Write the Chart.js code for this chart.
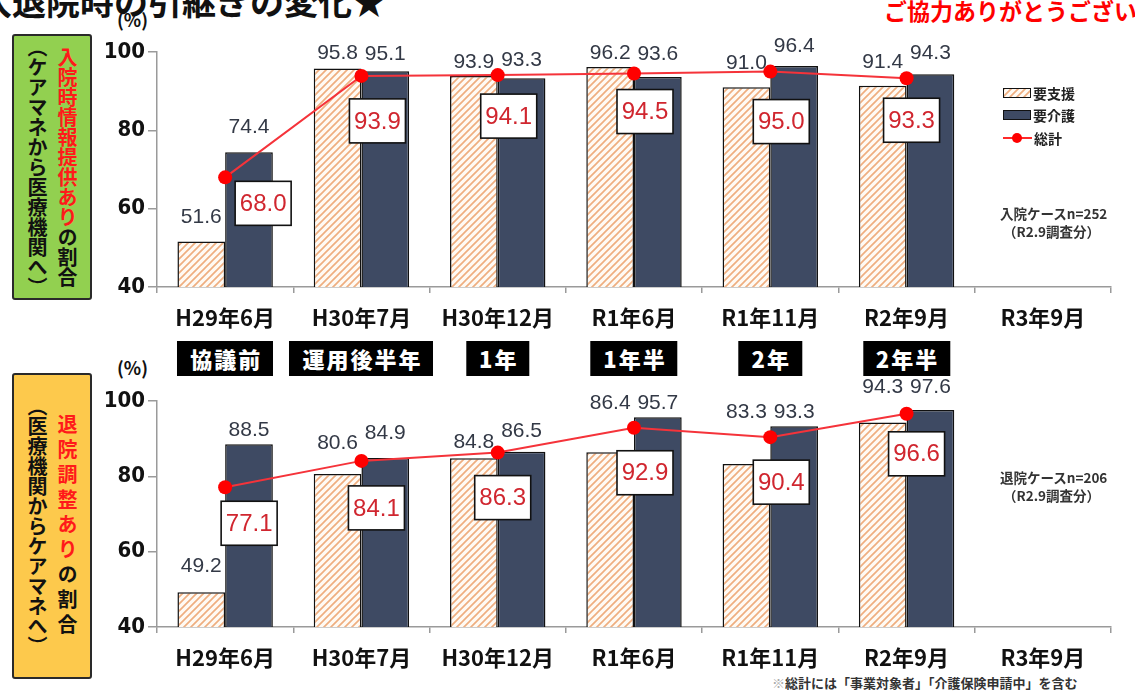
<!DOCTYPE html>
<html><head><meta charset="utf-8">
<script src="https://cdn.jsdelivr.net/npm/chart.js@4/dist/chart.umd.min.js"></script>
<style>
body{margin:0;width:1135px;height:693px;overflow:hidden;background:#fff;position:relative;font-family:"Noto Sans CJK JP",sans-serif;}
.abs{position:absolute;white-space:nowrap;}
canvas{position:absolute;}
.vbox{position:absolute;left:12px;width:76px;border:2px solid #2a2a2a;border-radius:3px;display:flex;flex-direction:row-reverse;justify-content:center;align-items:center;gap:4px;}
.vcol{writing-mode:vertical-rl;font-weight:700;font-size:20px;line-height:26px;color:#111;}
.phase{position:absolute;top:341px;height:35px;line-height:35px;background:#000;color:#fff;font-weight:900;font-size:22px;letter-spacing:2px;padding:0 11px 0 13px;transform:translateX(-50%);}
.leg{position:absolute;left:1003px;font-size:14px;font-weight:700;color:#222;display:flex;align-items:center;gap:2px;}
.note{position:absolute;font-size:13.5px;font-weight:700;color:#333;white-space:nowrap;}
</style></head><body>

<div class="abs" style="left:-22px;top:-24px;font-size:34px;font-weight:700;color:#111;">入退院時の引継ぎの変化★</div>
<div class="abs" style="left:884px;top:-7px;font-size:23px;font-weight:700;color:#ff0000;">ご協力ありがとうございました</div>

<div class="abs" style="left:117px;top:6px;font-size:18px;font-weight:700;color:#111;">(%)</div>
<div class="abs" style="left:117px;top:354px;font-size:18px;font-weight:700;color:#111;">(%)</div>

<div class="vbox" style="top:34px;height:262px;background:#92d050;">
  <div class="vcol"><span style="color:#ff1a1a">入院時情報提供あり</span>の割合</div>
  <div class="vcol">（ケアマネから医療機関へ）</div>
</div>
<div class="vbox" style="top:373px;height:302px;background:#fdc94c;">
  <div class="vcol" style="letter-spacing:5px;"><span style="color:#ff1a1a">退院調整あり</span>の割合</div>
  <div class="vcol">（医療機関からケアマネへ）</div>
</div>

<canvas id="c1"></canvas>
<canvas id="c2"></canvas>

<div class="leg" style="top:83px;"><span id="lg1" style="display:inline-block;width:26px;height:8px;border:1.5px solid #111;"></span><span id="ln0"></span></div>
<div class="leg" style="top:105px;"><span style="display:inline-block;width:26px;height:8px;border:1.5px solid #111;background:#3e4a63;"></span><span id="ln1"></span></div>
<div class="leg" style="top:128px;"><span style="position:relative;display:inline-block;width:29px;height:10px;"><span style="position:absolute;left:0;top:4px;width:29px;height:2px;background:#ff2a2a;"></span><span style="position:absolute;left:9px;top:0;width:10px;height:10px;border-radius:50%;background:#ff0000;"></span></span><span id="ln2"></span></div>

<div class="note" style="left:1000px;top:203px;">入院ケースn=252</div>
<div class="note" style="left:1003px;top:221px;">（R2.9調査分）</div>
<div class="note" style="left:1000px;top:467px;">退院ケースn=206</div>
<div class="note" style="left:1003px;top:485px;">（R2.9調査分）</div>
<div class="note" style="left:772px;top:673px;font-size:13px;"><span style="color:#aaa">※</span>総計には「事業対象者」「介護保険申請中」を含む</div>

<div id="phases"></div>

<script>
const categories = ['H29年6月','H30年7月','H30年12月','R1年6月','R1年11月','R2年9月','R3年9月'];
const phaseLabels = ['協議前','運用後半年','1年','1年半','2年','2年半'];
const seriesNames = ['要支援','要介護','総計'];
const yTicks = [40,60,80,100];

const admitSupport = [51.6,95.8,93.9,96.2,91.0,91.4,null];
const admitCare    = [74.4,95.1,93.3,93.6,96.4,94.3,null];
const admitTotal   = [68.0,93.9,94.1,94.5,95.0,93.3,null];

const dischargeSupport = [49.2,80.6,84.8,86.4,83.3,94.3,null];
const dischargeCare    = [88.5,84.9,86.5,95.7,93.3,97.6,null];
const dischargeTotal   = [77.1,84.1,86.3,92.9,90.4,96.6,null];

document.getElementById('ln0').textContent = seriesNames[0];
document.getElementById('ln1').textContent = seriesNames[1];
document.getElementById('ln2').textContent = seriesNames[2];

function makeHatch(){
  const s=7, c=document.createElement('canvas'); c.width=s; c.height=s;
  const g=c.getContext('2d');
  g.fillStyle='#fffaf4'; g.fillRect(0,0,s,s);
  g.strokeStyle='#efae80'; g.lineWidth=1.7;
  g.beginPath();
  g.moveTo(-1,1); g.lineTo(1,-1);
  g.moveTo(0,s); g.lineTo(s,0);
  g.moveTo(s-1,s+1); g.lineTo(s+1,s-1);
  g.stroke();
  return c;
}
const hatchCanvas = makeHatch();
document.getElementById('lg1').style.background = 'url(' + hatchCanvas.toDataURL() + ')';

const labelPlugin = {
  id:'valueLabels',
  afterDatasetsDraw(chart, args, opts){
    const ctx=chart.ctx; ctx.save();
    ctx.textAlign='center'; ctx.textBaseline='middle';
    ctx.font='21px "Liberation Sans", Arial, sans-serif'; ctx.fillStyle='#333946';
    [0,1].forEach(di=>{
      const meta=chart.getDatasetMeta(di), ds=chart.data.datasets[di];
      meta.data.forEach((el,i)=>{
        const v=ds.data[i]; if(v==null) return;
        ctx.fillText(v.toFixed(1), el.x, el.y-opts.lifts[di][i]);
      });
    });
    const lm=chart.getDatasetMeta(2), ld=chart.data.datasets[2];
    ctx.font='24px "Liberation Sans", Arial, sans-serif';
    lm.data.forEach((el,i)=>{
      const v=ld.data[i]; if(v==null) return;
      const o=opts.boxOffsets[i], cx=el.x+o[0], cy=el.y+o[1], w=56, h=44;
      ctx.fillStyle='#fff'; ctx.fillRect(cx-w/2,cy-h/2,w,h);
      ctx.strokeStyle='#111'; ctx.lineWidth=1.6; ctx.strokeRect(cx-w/2,cy-h/2,w,h);
      ctx.fillStyle='#d0262f'; ctx.fillText(v.toFixed(1), cx, cy+1);
    });
    ctx.restore();
  }
};

function build(id, left, top, width, height, padTop, sup, care, tot, lifts, boxOffsets){
  const cv=document.getElementById(id);
  cv.style.left=left+'px'; cv.style.top=top+'px';
  cv.width=width; cv.height=height; cv.style.width=width+'px'; cv.style.height=height+'px';
  const pattern = cv.getContext('2d').createPattern(hatchCanvas,'repeat');
  return new Chart(cv, {
    type:'bar',
    data:{ labels:categories, datasets:[
      {label:seriesNames[0], data:sup, backgroundColor:pattern, borderColor:'#111', borderWidth:1.5, borderSkipped:false, categoryPercentage:0.7, barPercentage:1.0, order:2},
      {label:seriesNames[1], data:care, backgroundColor:'#3e4a63', borderColor:'#111', borderWidth:1.5, borderSkipped:false, categoryPercentage:0.7, barPercentage:1.0, order:2},
      {type:'line', label:seriesNames[2], data:tot, borderColor:'#f5333a', borderWidth:2, pointRadius:7, pointBackgroundColor:'#ff0000', pointBorderColor:'#ff0000', pointBorderWidth:0, tension:0, order:0}
    ]},
    options:{
      responsive:false, animation:false, devicePixelRatio:1,
      layout:{padding:{top:padTop,right:2,left:0,bottom:0}},
      plugins:{legend:{display:false}, tooltip:{enabled:false}, valueLabels:{lifts:lifts, boxOffsets:boxOffsets}},
      scales:{
        x:{
          grid:{offset:true, drawOnChartArea:false, tickLength:6, color:'#9a9a9a', lineWidth:1.5},
          border:{color:'#9a9a9a', width:1.5},
          ticks:{font:{family:'"Noto Sans CJK JP", sans-serif', size:22, weight:'bold'}, color:'#111', padding:11, maxRotation:0, autoSkip:false},
          afterFit(s){ s.height=45; }
        },
        y:{
          min:40, max:100,
          afterBuildTicks(s){ s.ticks = yTicks.map(v=>({value:v})); },
          grid:{drawOnChartArea:false, tickLength:9, color:'#9a9a9a', lineWidth:1.5},
          border:{color:'#9a9a9a', width:1.5},
          ticks:{font:{family:'"Liberation Sans Narrow", "DejaVu Sans Condensed", sans-serif', size:22, weight:'bold'}, color:'#111', padding:3},
          afterFit(s){ s.width=57; }
        }
      }
    },
    plugins:[labelPlugin]
  });
}

const chartTop = build('c1', 100, 30, 1018, 302, 22, admitSupport, admitCare, admitTotal,
  [[24,15,14,14,24,23],[25,17,18,23,20,21]],
  [[38,26],[16,45],[11,41],[11,38],[11,50],[5,42]]);
const chartBottom = build('c2', 100, 375, 1018, 297, 26, dischargeSupport, dischargeCare, dischargeTotal,
  [[26,31,16,49,52,35],[14,25,21,14,14,23]],
  [[24,36],[15,47],[5,45],[11,45],[11,45],[10,40]]);

const ph=document.getElementById('phases');
const xs=chartTop.scales.x;
phaseLabels.forEach((t,i)=>{
  const d=document.createElement('div'); d.className='phase'; d.textContent=t;
  d.style.left=(100+xs.getPixelForValue(i))+'px';
  ph.appendChild(d);
});
</script>
</body></html>
